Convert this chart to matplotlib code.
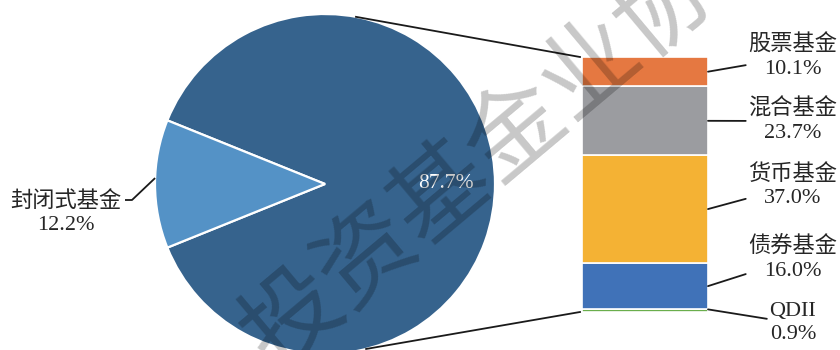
import numpy as np
import matplotlib
matplotlib.use("Agg")
import matplotlib.pyplot as plt

# ---- data ----
pie_labels = ["其他", "封闭式基金"]
pie_values = [87.7, 12.2]
bar_labels = ["QDII", "债券基金", "货币基金", "混合基金", "股票基金"]
bar_values = [0.9, 16.0, 37.0, 23.7, 10.1]

# ---- style ----
pie_colors = ["#36638D", "#5492C6"]
bar_colors = ["#6AAE4C", "#4072B8", "#F4B234", "#9B9CA0", "#E57841"]
text_color = "#262626"
fonts = ["Liberation Serif", "Noto Sans CJK SC", "DejaVu Sans"]

W, H = 840, 350
fig = plt.figure(figsize=(W / 100, H / 100), dpi=100)
ax = fig.add_axes([0, 0, 1, 1])

# ---- pie ----
cx, cy, R = 325, 166, 170
total = sum(pie_values)
small_half = 0.5 * 360 * pie_values[1] / total
start = 180 + small_half
wedges, _ = ax.pie(pie_values, colors=pie_colors, startangle=start,
                   center=(cx, cy), radius=R,
                   wedgeprops=dict(edgecolor="white", linewidth=1.6))

def edge_point(theta_deg, r=R):
    t = np.deg2rad(theta_deg)
    return cx + r * np.cos(t), cy + r * np.sin(t)

# label inside the large wedge
big = wedges[0]
mid_big = 0.5 * (big.theta1 + big.theta2)
lx, ly = edge_point(mid_big, 0.71 * R)
ax.text(lx, ly, f"{pie_values[0]:.1f}%", color="white", fontsize=15.5,
        ha="center", va="center", family=fonts, zorder=5)

# label for the small wedge with elbow leader
small = wedges[1]
mid_small = 0.5 * (small.theta1 + small.theta2)
px, py = edge_point(mid_small - 2)
tx, ty = 66, 137
ax.text(tx, ty, f"{pie_labels[1]}\n{pie_values[1]:.1f}%", color=text_color,
        fontsize=16, ha="center", va="center", linespacing=1.3,
        family=fonts, zorder=5)
ax.plot([125, 132, px], [150, 150, py], color="#1a1a1a", lw=1.3,
        zorder=4, solid_capstyle="butt")

# ---- stacked bar ----
bar_x, bar_w = 645, 126
bar_bottom, bar_top = 38, 293
scale = (bar_top - bar_bottom) / sum(bar_values)
heights = [v * scale for v in bar_values]
bottoms = bar_bottom + np.concatenate([[0], np.cumsum(heights)[:-1]])
ax.bar([bar_x] * len(bar_values), heights, width=bar_w, bottom=bottoms,
       color=bar_colors, edgecolor="white", linewidth=1.2, zorder=3)

# connector lines from pie to bar
x_left = bar_x - bar_w / 2
top_pt = edge_point(79.5)
bot_pt = edge_point(-76)
ax.plot([top_pt[0], x_left - 2], [top_pt[1], bar_bottom + sum(heights)],
        color="#1a1a1a", lw=1.3, zorder=4)
ax.plot([bot_pt[0], x_left - 2], [bot_pt[1], bar_bottom],
        color="#1a1a1a", lw=1.3, zorder=4)

# bar labels on the right
label_y = [27, 91, 164, 229, 293]
x_right = bar_x + bar_w / 2
for lab, v, b, h, y in zip(bar_labels, bar_values, bottoms, heights, label_y):
    anchor_y = b + h / 2 if h > 5 else b + h
    ax.annotate(f"{lab}\n{v:.1f}%", xy=(x_right, anchor_y), xytext=(793, y),
                ha="center", va="center", fontsize=16, color=text_color,
                linespacing=1.3, family=fonts, zorder=5,
                arrowprops=dict(arrowstyle="-", color="#1a1a1a", lw=1.3,
                                shrinkA=0, shrinkB=0))

# ---- watermark (runs off the figure edges) ----
ax.text(517, H - 132, "投资基金业协会", fontsize=70, rotation=40,
        rotation_mode="anchor", ha="center", va="center",
        color="black", alpha=0.22, family=["Noto Sans CJK SC"], zorder=10,
        clip_on=True)

ax.set_xlim(0, W)
ax.set_ylim(0, H)
ax.set_aspect("equal", adjustable="box")
ax.axis("off")

fig.savefig("out.png", dpi=100, facecolor="white")
